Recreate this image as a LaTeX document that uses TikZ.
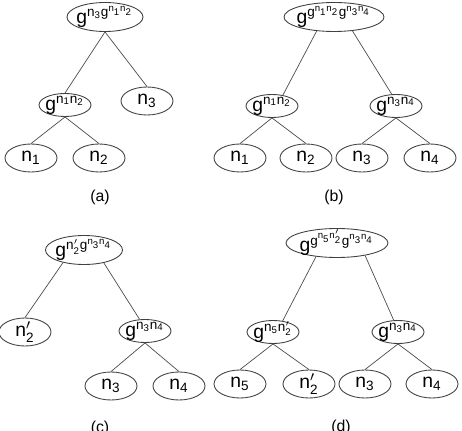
\documentclass[tikz,border=0pt]{standalone}
\usepackage{amsmath}
\usepackage{fontspec}
\setmainfont{Liberation Sans}
\usetikzlibrary{shapes.geometric}

\newcommand{\nn}[1]{\text{n}_{\text{#1}}}
\newcommand{\np}[1]{\text{n}'_{\text{#1}}}
\newcommand{\gexp}[1]{\text{g}^{#1}}

\begin{document}
\begin{tikzpicture}[
    nut/.style={ellipse, draw=black!75, line width=0.5pt, inner xsep=-2pt, inner ysep=-3pt,
        font=\fontsize{11}{13}\selectfont},
    la/.style={nut, minimum width=1.04cm, minimum height=0.56cm},
    giua/.style={nut, minimum width=1.04cm, minimum height=0.46cm},
    goc/.style={nut, minimum height=0.58cm},
    canh/.style={draw=black!70, line width=0.4pt},
    nhan/.style={font=\fontsize{9}{11}\selectfont}]
    \useasboundingbox (0,0) rectangle (9.24,8.6);

    % Cây (a)
    \node[goc, minimum width=1.52cm] (aGoc) at (2.10,8.26) {$\gexp{\nn3\gexp{\nn1\nn2}}$};
    \node[giua] (aG) at (1.30,6.50) {$\gexp{\nn1\nn2}$};
    \node[la] (aN3) at (2.94,6.58) {$\nn3$};
    \node[la] (aN1) at (0.62,5.44) {$\nn1$};
    \node[la] (aN2) at (1.98,5.44) {$\nn2$};
    \draw[canh] (aGoc.south) -- (aG.north);
    \draw[canh] (aGoc.south) -- (aN3.north);
    \draw[canh] (aG.south) -- (aN1.north);
    \draw[canh] (aG.south) -- (aN2.north);
    \node[nhan] (aTen) at (2.00,4.66) {(a)};

    % Cây (b)
    \node[goc, minimum width=2.00cm] (bGoc) at (6.68,8.26) {$\gexp{\gexp{\nn1\nn2}\gexp{\nn3\nn4}}$};
    \node[giua] (bG12) at (5.44,6.48) {$\gexp{\nn1\nn2}$};
    \node[giua] (bG34) at (7.92,6.48) {$\gexp{\nn3\nn4}$};
    \node[la] (bN1) at (4.80,5.44) {$\nn1$};
    \node[la] (bN2) at (6.12,5.44) {$\nn2$};
    \node[la] (bN3) at (7.24,5.44) {$\nn3$};
    \node[la] (bN4) at (8.60,5.44) {$\nn4$};
    \draw[canh] (bGoc.219) -- (bG12.45);
    \draw[canh] (bGoc.323) -- (bG34.110);
    \draw[canh] (bG12.south) -- (bN1.north);
    \draw[canh] (bG12.south) -- (bN2.north);
    \draw[canh] (bG34.south) -- (bN3.north);
    \draw[canh] (bG34.south) -- (bN4.north);
    \node[nhan] (bTen) at (6.68,4.66) {(b)};

    % Cây (c)
    \node[goc, minimum width=1.54cm] (cGoc) at (1.68,3.60) {$\gexp{\np2\gexp{\nn3\nn4}}$};
    \node[la] (cN2) at (0.50,1.96) {$\np2$};
    \node[giua] (cG34) at (2.90,1.98) {$\gexp{\nn3\nn4}$};
    \node[la] (cN3) at (2.22,0.88) {$\nn3$};
    \node[la] (cN4) at (3.58,0.88) {$\nn4$};
    \draw[canh] (cGoc.211) -- (cN2.north);
    \draw[canh] (cGoc.327) -- (cG34.115);
    \draw[canh] (cG34.south) -- (cN3.north);
    \draw[canh] (cG34.south) -- (cN4.north);
    \node[nhan] (cTen) at (2.00,0.04) {(c)};

    % Cây (d)
    \node[goc, minimum width=2.04cm] (dGoc) at (6.74,3.74) {$\gexp{\gexp{\nn5\np2}\gexp{\nn3\nn4}}$};
    \node[giua] (dG52) at (5.46,1.96) {$\gexp{\nn5\np2}$};
    \node[giua] (dG34) at (7.96,1.96) {$\gexp{\nn3\nn4}$};
    \node[la] (dN5) at (4.80,0.92) {$\nn5$};
    \node[la] (dN2) at (6.18,0.92) {$\np2$};
    \node[la] (dN3) at (7.30,0.92) {$\nn3$};
    \node[la] (dN4) at (8.64,0.92) {$\nn4$};
    \draw[canh] (dGoc.213) -- (dG52.49);
    \draw[canh] (dGoc.336) -- (dG34.110);
    \draw[canh] (dG52.south) -- (dN5.north);
    \draw[canh] (dG52.south) -- (dN2.north);
    \draw[canh] (dG34.south) -- (dN3.north);
    \draw[canh] (dG34.south) -- (dN4.north);
    \node[nhan] (dTen) at (6.82,0.06) {(d)};
\end{tikzpicture}
\end{document}
